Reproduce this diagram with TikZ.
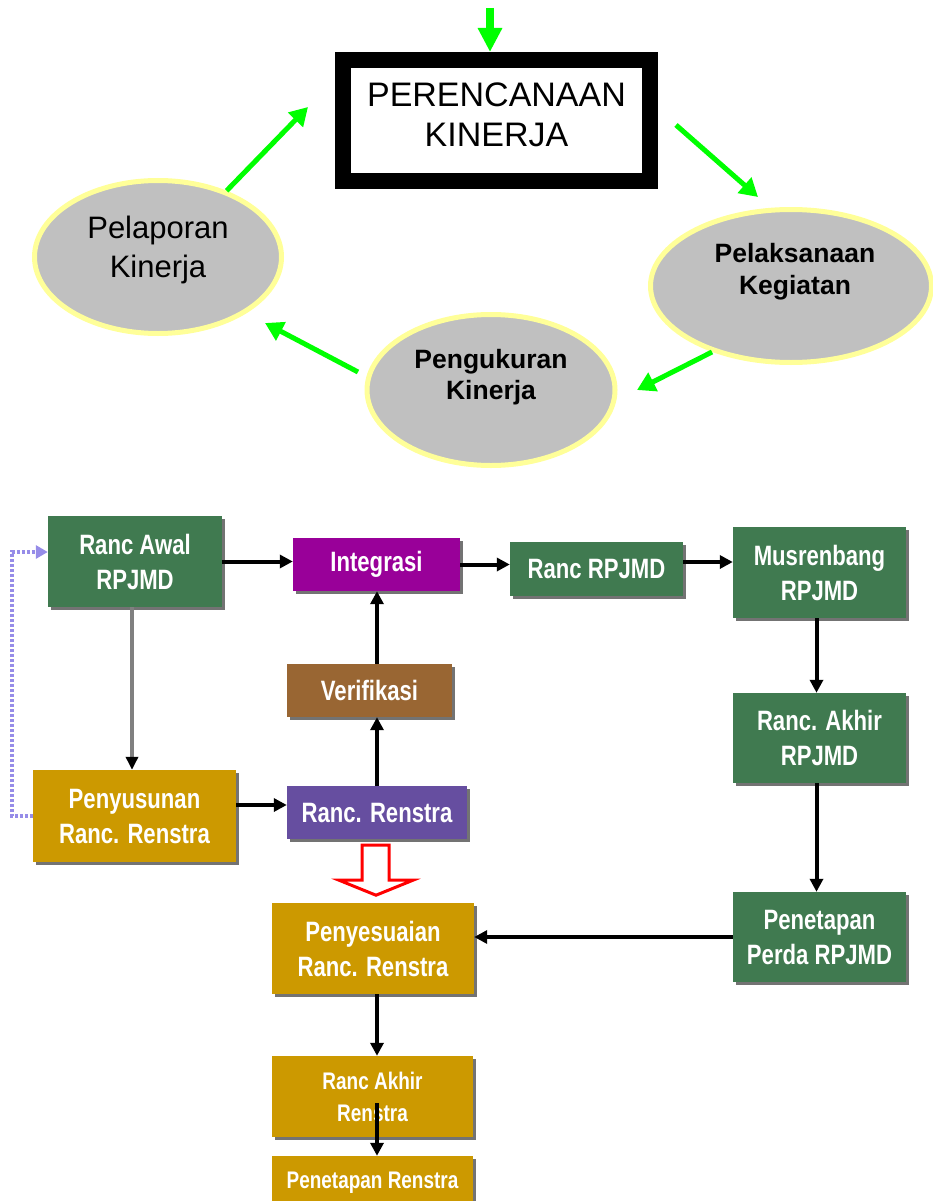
\documentclass[tikz,border=0pt]{standalone}
\usepackage{fontspec}
\setmainfont{Liberation Sans}
\newfontfamily\narrowsans[FakeStretch=0.79]{Liberation Sans}
\usetikzlibrary{arrows.meta,shadows,shapes.geometric,calc}
\definecolor{boxgreen}{RGB}{64,122,80}
\definecolor{boxmagenta}{RGB}{153,0,153}
\definecolor{boxbrown}{RGB}{153,102,51}
\definecolor{boxviolet}{RGB}{102,78,160}
\definecolor{boxgold}{RGB}{204,153,0}
\definecolor{cyclegreen}{RGB}{0,255,0}
\definecolor{paleyellow}{RGB}{255,255,153}
\definecolor{ellgray}{RGB}{192,192,192}
\definecolor{lavender}{RGB}{150,140,232}
\begin{document}
\begin{tikzpicture}[x=1pt,y=-1pt,
  flowbox/.style={rectangle,inner sep=0pt,text=white,align=center,
    font=\narrowsans\bfseries\fontsize{28}{35}\selectfont,
    drop shadow={shadow xshift=2.5pt,shadow yshift=-2.5pt,fill=black!55,opacity=1}},
  smallflow/.style={flowbox,font=\narrowsans\bfseries\fontsize{24}{32}\selectfont},
  blackarrow/.style={draw=black,line width=4pt,-{Triangle[length=13pt,width=13pt]}},
  greyarrow/.style={draw=black!50,line width=3.5pt,-{Triangle[length=13pt,width=12pt,color=black]}},
  greenarrow/.style={draw=cyclegreen,line width=5pt,-{Triangle[length=18pt,width=20pt]}},
  cycleell/.style={ellipse,draw=paleyellow,line width=5pt,fill=ellgray,inner sep=0pt},
  elltext/.style={align=center,inner sep=0pt},
]
\useasboundingbox (0,0) rectangle (932,1201);

% ---------------- cycle ----------------
\node[rectangle,draw=black,line width=16pt,fill=white,minimum width=307pt,minimum height=121pt,inner sep=0pt] (peren) at (496.5,120.5) {};
\node[elltext,font=\fontsize{34}{40}\selectfont] (perenT) at (496.5,115) {PERENCANAAN\\KINERJA};

\node[cycleell,minimum width=247pt,minimum height=153pt] (pelap) at (158,257) {};
\node[elltext,font=\fontsize{31}{39}\selectfont] (pelapT) at (158,249.5) {Pelaporan\\Kinerja};

\node[cycleell,minimum width=281pt,minimum height=153pt] (pelak) at (791,286) {};
\node[elltext,font=\bfseries\fontsize{26.5}{32}\selectfont] (pelakT) at (795,272) {Pelaksanaan\\Kegiatan};

\node[cycleell,minimum width=248pt,minimum height=151pt] (pengu) at (491,390) {};
\node[elltext,font=\bfseries\fontsize{26.5}{31}\selectfont] (penguT) at (491,377) {Pengukuran\\Kinerja};

\coordinate (topin) at (490,8);
\coordinate (a1e) at (308,107);
\coordinate (a2s) at (676,125);
\coordinate (a2e) at (758,197);
\coordinate (a3s) at (712,352);
\coordinate (a3e) at (637,390);
\coordinate (a4s) at (358,372);
\coordinate (a4e) at (265,323);

\draw[draw=cyclegreen,line width=8pt,-{Triangle[length=24pt,width=23pt]}] (topin) -- (topin |- peren.north);
\draw[greenarrow] (pelap.44) -- (a1e);
\draw[greenarrow] (a2s) -- (a2e);
\draw[greenarrow] (a3s) -- (a3e);
\draw[greenarrow] (a4s) -- (a4e);

% ---------------- flow chart ----------------
\node[flowbox,fill=boxgreen,minimum width=174pt,minimum height=91pt] (rawal) at (135,561.5) {Ranc Awal\\RPJMD};
\node[flowbox,fill=boxmagenta,minimum width=167pt,minimum height=53pt] (integ) at (376.5,564.5) {Integrasi};
\node[flowbox,fill=boxgreen,minimum width=173pt,minimum height=54pt] (rrpjmd) at (596.5,569) {Ranc RPJMD};
\node[flowbox,fill=boxgreen,minimum width=173pt,minimum height=91pt] (musren) at (819.5,572.5) {Musrenbang\\RPJMD};
\node[flowbox,fill=boxgreen,minimum width=173pt,minimum height=90pt] (rakhir) at (819.5,738) {Ranc. Akhir\\RPJMD};
\node[flowbox,fill=boxgreen,minimum width=173pt,minimum height=90pt] (perda) at (819.5,937) {Penetapan\\Perda RPJMD};
\node[flowbox,fill=boxbrown,minimum width=165pt,minimum height=53pt] (verif) at (369.5,690.5) {Verifikasi};
\node[flowbox,fill=boxviolet,minimum width=180pt,minimum height=53pt] (rrenstra) at (377,812.5) {Ranc. Renstra};
\node[flowbox,fill=boxgold,minimum width=203pt,minimum height=92pt] (penyus) at (134.5,816) {Penyusunan\\Ranc. Renstra};
\node[flowbox,fill=boxgold,minimum width=202pt,minimum height=91pt] (penyes) at (373,948.5) {Penyesuaian\\Ranc. Renstra};
\node[smallflow,fill=boxgold,minimum width=201pt,minimum height=81pt] (rakhirren) at (372.5,1096.5) {Ranc Akhir\\Renstra};
\node[smallflow,fill=boxgold,minimum width=201pt,minimum height=54pt] (penren) at (372.5,1183) {Penetapan Renstra};

% connectors
\draw[blackarrow] (rawal.east) -- (rawal.east -| integ.west);
\draw[blackarrow] (integ.east) -- (integ.east -| rrpjmd.west);
\draw[blackarrow] ([yshift=7pt]rrpjmd.east) -- ([yshift=7pt]rrpjmd.east -| musren.west);
\draw[blackarrow] ([xshift=-3pt]musren.south) -- ([xshift=-3pt]rakhir.north);
\draw[blackarrow] ([xshift=-3pt]rakhir.south) -- ([xshift=-3pt]perda.north);
\draw[blackarrow] (perda.west) -- (perda.west -| penyes.east);
\draw[greyarrow] ([xshift=-3pt]rawal.south) -- ([xshift=-3pt]rawal.south |- penyus.north);
\draw[blackarrow] ([yshift=11pt]penyus.east) -- ([yshift=11pt]penyus.east -| rrenstra.west);
\draw[blackarrow] (rrenstra.north) -- (rrenstra.north |- verif.south);
\draw[blackarrow] (verif.north -| rrenstra.north) -- (integ.south -| rrenstra.north);
\draw[blackarrow] ([xshift=4pt]penyes.south) -- ([xshift=4.5pt]rakhirren.north);
\draw[blackarrow] ([xshift=4.5pt,yshift=-6.5pt]rakhirren.center) -- ([xshift=4.5pt]penren.north);

% dashed feedback
\draw[draw=lavender,line width=4pt,dash pattern=on 3pt off 2pt,-{Triangle[length=12pt,width=13pt]}]
  (penyus.west) -- ++(-21,0) |- ([yshift=9.5pt]rawal.west);

% hollow red arrow
\draw[draw=red,line width=3pt,fill=white,line join=miter]
  ($(rrenstra.south)+(-15,6)$) -- ++(27,0) -- ++(0,35) -- ++(24,0)
  -- ($(rrenstra.south)+(-1,56)$) -- ++(-37,-15) -- ++(23,0) -- cycle;
\end{tikzpicture}
\end{document}
